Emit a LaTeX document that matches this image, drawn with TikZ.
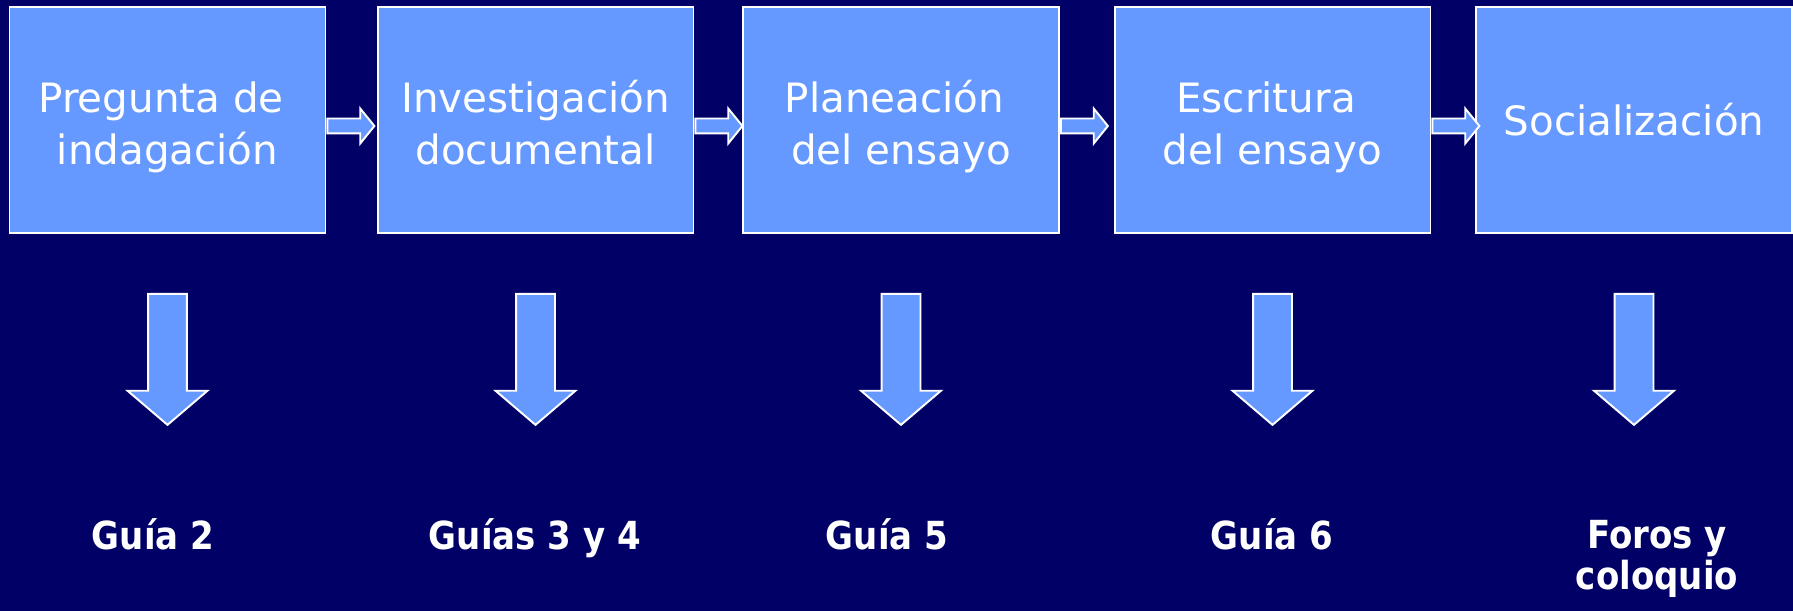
\documentclass[tikz,border=0pt]{standalone}
\usepackage{fontspec}
\setmainfont{DejaVu Sans}
\newfontfamily\etiqfont[FakeStretch=0.88]{DejaVu Sans}
\usetikzlibrary{shapes.arrows}
\definecolor{fondo}{HTML}{000066}
\definecolor{caja}{HTML}{6699FF}
\begin{document}
\begin{tikzpicture}[x=0.02cm,y=-0.02cm,
    paso/.style={draw=white,line width=1.1pt,fill=caja,minimum width=6.32cm,minimum height=4.52cm,align=center,text=white,font=\fontsize{23}{29.6}\selectfont},
    doble/.style={paso,text height=56.1pt,text depth=6pt},
    flechita/.style={single arrow,draw=white,line width=1.1pt,fill=caja,inner xsep=0pt,inner ysep=0.13cm,minimum width=0.66cm,single arrow head extend=0.2cm,single arrow tip angle=102,minimum height=0.94cm,anchor=tail},
    flechota/.style={single arrow,draw=white,line width=1.1pt,fill=caja,inner xsep=0pt,inner ysep=0.37cm,minimum width=1.56cm,single arrow head extend=0.41cm,single arrow tip angle=99,minimum height=2.62cm,rotate=-90,anchor=tail},
    guia/.style={text=white,align=center,anchor=base,font=\etiqfont\bfseries\fontsize{22}{23.3}\selectfont}]
  \fill[fondo] (0,0) rectangle (1793,611);
  \node[doble] (b1) at (167.5,120) {Pregunta de\kern.32em\\indagación};
  \node[doble] (b2) at (535.5,120) {Investigación\\documental};
  \node[doble] (b3) at (901,120) {Planeación\kern.32em\\del ensayo};
  \node[doble] (b4) at (1272.5,120) {Escritura\kern.32em\\del ensayo};
  \node[paso] (b5) at (1634,120) {Socialización};
  \node[flechita] (f12) at ([yshift=-0.12cm]b1.east) {};
  \node[flechita] (f23) at ([yshift=-0.12cm]b2.east) {};
  \node[flechita] (f34) at ([yshift=-0.12cm]b3.east) {};
  \node[flechita] (f45) at ([yshift=-0.12cm]b4.east) {};
  \node[flechota] (g1) at ([yshift=-1.18cm]b1.south) {};
  \node[flechota] (g2) at ([yshift=-1.18cm]b2.south) {};
  \node[flechota] (g3) at ([yshift=-1.18cm]b3.south) {};
  \node[flechota] (g4) at ([yshift=-1.18cm]b4.south) {};
  \node[flechota] (g5) at ([yshift=-1.18cm]b5.south) {};
  \node[guia] (l1) at (153,549) {Guía 2};
  \node[guia] (l2) at (535,549) {Guías 3 y 4};
  \node[guia] (l3) at (887,549) {Guía 5};
  \node[guia] (l4) at (1272,549) {Guía 6};
  \node[guia] (l5) at (1657,589) {Foros y\\coloquio};
\end{tikzpicture}
\end{document}
